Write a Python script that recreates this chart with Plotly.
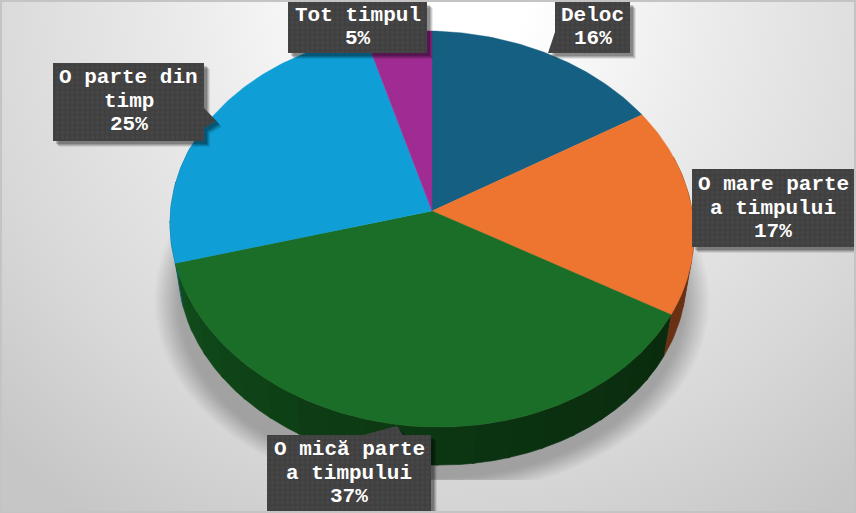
import base64
import numpy as np
import plotly.graph_objects as go

# ---- data ----
categories = ["Deloc", "O mare parte a timpului", "O mică parte a timpului", "O parte din timp", "Tot timpul"]
values = [16.0, 17.0, 37.4, 25.1, 4.5]
percent_labels = ["16%", "17%", "37%", "25%", "5%"]
label_lines = [["Deloc"], ["O mare parte", "a timpului"], ["O mică parte", "a timpului"], ["O parte din", "timp"], ["Tot timpul"]]
colors = ["#156082", "#EE7530", "#1B6E27", "#0F9ED5", "#A02B93"]
side_near = ["#0c3a4e", "#6a3014", "#0a2c0e", "#085f80", "#611a58"]
side_far = ["#0c3a4e", "#6a3014", "#114c1b", "#085f80", "#611a58"]

# ---- layout of pie (pixels on the chart's axes) ----
W, H = 856, 513
APEX_X, APEX_Y = 432, 211
C, A, D, SKEW = 0.0909, 196.4, 260.9, 0.02
SCALE_B, DROP_B = 0.97, 44.5

def project(theta, scale=1.0, drop=0.0):
    u, v = np.sin(theta), np.cos(theta)
    den = 1 + C * v
    X = D * u / den * scale
    Y = A * v / den * scale
    return APEX_X + X, APEX_Y + drop - Y + SKEW * X

def polygon(xs, ys, color, line=0.6, name=None):
    return go.Scatter(x=list(xs), y=list(ys), mode="lines", fill="toself", fillcolor=color,
                      line=dict(color=color, width=line), hoverinfo="skip" if name is None else "text",
                      text=name, showlegend=False)

def mix(c1, c2, t):
    a = [int(c1[i:i+2], 16) for i in (1, 3, 5)]
    b = [int(c2[i:i+2], 16) for i in (1, 3, 5)]
    return "#%02x%02x%02x" % tuple(round(p + (q - p) * t) for p, q in zip(a, b))

fig = go.Figure()

# soft shadow under the pie, cut flat at its lower edge
SH_CX, SH_CY, SH_RX, SH_RY, SH_CUT = 432, 300, 278, 196, 480
for s in np.linspace(1.0, 0.91, 20):
    t = np.radians(np.linspace(-22, 202, 160))
    xs = SH_CX + SH_RX * s * np.cos(t)
    ys = np.minimum(SH_CY + SH_RY * s * np.sin(t), SH_CUT)
    fig.add_trace(go.Scatter(x=xs, y=ys, mode="lines", fill="toself", fillcolor="rgba(0,0,0,0.0135)",
                             line=dict(width=0, color="rgba(0,0,0,0)"), hoverinfo="skip", showlegend=False))

# slice boundaries in radians
cum = np.cumsum([0] + values) / sum(values) * 2 * np.pi

# side walls: only the lower part is visible
for i, (a0, a1) in enumerate(zip(cum[:-1], cum[1:])):
    lo, hi = max(a0, np.pi * 0.40), min(a1, np.pi * 1.60)
    if hi <= lo:
        continue
    bands = 18 if i == 2 else 3
    edges = np.linspace(lo, hi, bands + 1)
    for j in range(bands):
        th = np.linspace(edges[j], edges[j + 1] + (0.01 if j < bands - 1 else 0), 14)
        tx, ty = project(th)
        bx, by = project(th, SCALE_B, DROP_B)
        col = mix(side_near[i], side_far[i], (j / max(bands - 1, 1)) ** 1.4)
        fig.add_trace(polygon(np.r_[tx, bx[::-1]], np.r_[ty, by[::-1]], col))

# top faces
for i, (a0, a1) in enumerate(zip(cum[:-1], cum[1:])):
    th = np.linspace(a0, a1, max(int((a1 - a0) * 60), 12))
    x, y = project(th)
    fig.add_trace(polygon(np.r_[APEX_X, x, APEX_X], np.r_[APEX_Y, y, APEX_Y], colors[i], line=0.4,
                          name=f"{categories[i]}: {percent_labels[i]}"))

# label boxes as outlines, including callout pointers
outlines = [
    [(555, 2), (630, 2), (630, 53), (548, 53), (555, 32)],
    [(692, 169), (854, 169), (854, 247), (692, 247)],
    [(267, 435), (363, 435), (397, 426), (403, 435), (431, 435), (431, 511), (267, 511)],
    [(53, 63), (204, 63), (204, 108), (216, 121), (204, 128), (204, 141), (53, 141)],
    [(288, 2), (427, 2), (427, 53), (288, 53)],
]
label_centers = [(592.5, 27), (773, 208), (349, 473), (128.5, 101), (357.5, 27)]
line_step = 23.7
for i, outline in enumerate(outlines):
    ox, oy = zip(*(outline + outline[:1]))
    for off, alpha in ((6, 0.08), (5, 0.12), (4, 0.16), (3, 0.18)):
        fig.add_trace(go.Scatter(x=[q + off for q in ox], y=[q + off for q in oy], mode="lines", fill="toself",
                                 fillcolor=f"rgba(0,0,0,{alpha})", line=dict(width=0, color="rgba(0,0,0,0)"),
                                 hoverinfo="skip", showlegend=False))
    fig.add_trace(go.Scatter(x=ox, y=oy, mode="lines", fill="toself", line=dict(width=0, color="#404040"),
                             fillcolor="#404040",
                             fillpattern=dict(shape=".", size=5, solidity=0.4, fgcolor="#4c4c4c", bgcolor="#404040"),
                             hoverinfo="skip", showlegend=False))
    lines = label_lines[i] + [percent_labels[i]]
    cx, cy = label_centers[i]
    for k, txt in enumerate(lines):
        fig.add_annotation(x=cx, y=cy + (k - (len(lines) - 1) / 2) * line_step, text=txt, showarrow=False,
                           xref="x", yref="y", xanchor="center", yanchor="middle",
                           font=dict(family="Liberation Mono", size=21, color="#ffffff", weight="bold"))

# chart-area background gradient
svg = f"""<svg xmlns='http://www.w3.org/2000/svg' width='{W}' height='{H}'>
<defs><radialGradient id='g' gradientUnits='userSpaceOnUse' cx='450' cy='-10' r='640'>
<stop offset='0' stop-color='#ffffff'/><stop offset='0.12' stop-color='#ffffff'/>
<stop offset='0.4' stop-color='#ececec'/><stop offset='0.75' stop-color='#d8d8d8'/>
<stop offset='1' stop-color='#c6c6c6'/></radialGradient></defs>
<rect width='{W}' height='{H}' fill='url(#g)'/></svg>"""
uri = "data:image/svg+xml;base64," + base64.b64encode(svg.encode()).decode()

fig.update_layout(
    width=W, height=H, margin=dict(l=0, r=0, t=0, b=0), showlegend=False,
    paper_bgcolor="#e6e6e6", plot_bgcolor="rgba(0,0,0,0)",
    xaxis=dict(range=[0, W], visible=False, fixedrange=True),
    yaxis=dict(range=[H, 0], visible=False, fixedrange=True),
    images=[dict(source=uri, xref="x", yref="y", x=0, y=0, sizex=W, sizey=H, sizing="stretch", layer="below")],
    shapes=[dict(type="rect", xref="x", yref="y", x0=1, x1=W - 1, y0=1, y1=H - 1,
                 line=dict(color="#c4c4c4", width=2), layer="above")],
)
fig.write_html("out.html", config=dict(displayModeBar=False),
               post_script="document.body.style.margin='0';document.body.style.overflow='hidden';")
